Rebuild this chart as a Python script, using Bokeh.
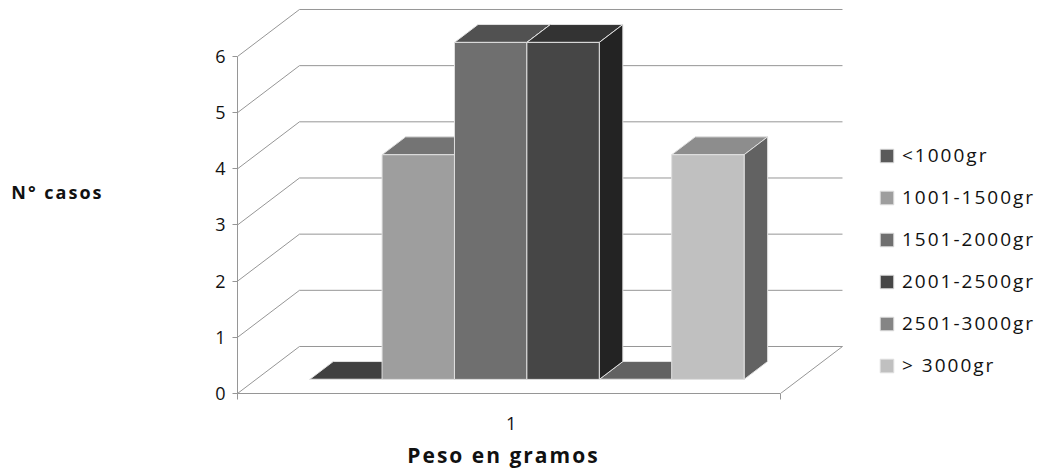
from bokeh.embed import file_html
from bokeh.resources import INLINE
from bokeh.plotting import figure
from bokeh.models import (Range1d, FixedTicker, LinearAxis, Legend, LegendItem)

series = ["<1000gr", "1001-1500gr", "1501-2000gr", "2001-2500gr", "2501-3000gr", "> 3000gr"]
values = [0, 4, 6, 6, 0, 4]
y_ticks = [0, 1, 2, 3, 4, 5, 6]
category_label = "1"
x_title = "Peso en gramos"
y_title = "N° casos"

front_colors = ["#5a5a5a", "#9e9e9e", "#6f6f6f", "#464646", "#858585", "#c0c0c0"]
top_colors = ["#404040", "#747474", "#515151", "#333333", "#626262", "#8d8d8d"]
side_colors = ["#2f2f2f", "#5c5c5c", "#3a3a3a", "#232323", "#484848", "#626262"]

FONT = "Open Sans"
GRID = "#969696"
EDGE = "#e0e0e0"
INK = "#111111"

# Oblique projection: one unit of depth moves a point this far in data units.
DEPTH_X, DEPTH_Y = 0.856, 0.837
NEAR, FAR = 0.30, 0.68        # depth span of the bars, 0 = front of floor, 1 = back wall
GAP = 0.74                    # empty space either side of the bar group
SPAN = 7.5                    # axis length in bar widths
CATEGORY_AT = 3.78            # where the category label is centred
TITLE_AT = 3.48               # anchor of the axis title, its tracking runs rightwards
Y_TITLE_AT = 3.58             # height of the value-axis title


def proj(x, y, d):
    return x + d * DEPTH_X, y + d * DEPTH_Y


p = figure(width=1044, height=470, output_backend="svg", toolbar_location=None,
           x_range=Range1d(0, 11.146), y_range=Range1d(0, 6.997),
           frame_height=393, frame_width=807,
           min_border_left=237, min_border_bottom=77, min_border_top=0, min_border_right=0,
           outline_line_color=None, x_axis_type=None, y_axis_type=None)
p.grid.visible = False
p.styles = {"letter-spacing": "2px"}

# Back wall, left wall and floor lines
for v in y_ticks:
    x0, y0 = proj(0, v, 1)
    x1, y1 = proj(SPAN, v, 1)
    p.line([x0, x1], [y0, y1], line_color=GRID, line_width=1)
    p.line([0, x0], [v, y0], line_color=GRID, line_width=1)
xr, yr = proj(SPAN, 0, 1)
p.line([SPAN, xr], [0, yr], line_color=GRID, line_width=1)

# Tops and sides go first, lowest bars underneath the taller ones
order = sorted(range(len(values)), key=lambda k: values[k])
for i in order:
    left, right = GAP + i, GAP + i + 1
    v = values[i]
    a = proj(left, v, NEAR)
    b = proj(right, v, NEAR)
    c = proj(right, v, FAR)
    d = proj(left, v, FAR)
    p.patch([a[0], b[0], c[0], d[0]], [a[1], b[1], c[1], d[1]],
            fill_color=top_colors[i], line_color=EDGE, line_width=1)
    if v > 0:
        e = proj(right, 0, NEAR)
        f = proj(right, 0, FAR)
        p.patch([b[0], e[0], f[0], c[0]], [b[1], e[1], f[1], c[1]],
                fill_color=side_colors[i], line_color=EDGE, line_width=1)

# Front faces, which also supply the legend swatches
items = []
for i, (name, v) in enumerate(zip(series, values)):
    x0, y0 = proj(GAP + i, 0, NEAR)
    x1, y1 = proj(GAP + i + 1, v, NEAR)
    r = p.quad(left=x0, right=x1, bottom=y0, top=y1,
               fill_color=front_colors[i], line_color=EDGE, line_width=1)
    items.append(LegendItem(label=name, renderers=[r]))

legend = Legend(items=items, location=(641, 15), orientation="vertical",
                glyph_width=17, glyph_height=17, label_height=20, label_standoff=7,
                spacing=16, padding=0, margin=0, border_line_color=None,
                background_fill_alpha=0, label_text_font=FONT, label_text_font_size="19px",
                label_text_color=INK)
p.add_layout(legend)

yaxis = LinearAxis(ticker=FixedTicker(ticks=y_ticks), major_tick_out=5, major_tick_in=0,
                   major_tick_line_color=GRID, axis_line_color=GRID,
                   minor_tick_line_color=None, major_label_standoff=7,
                   major_label_text_font=FONT, major_label_text_font_size="18px",
                   major_label_text_color=INK, bounds=(0, 6))
p.add_layout(yaxis, "left")

# Value-axis title, set level on a line-free axis of its own
y_title_axis = LinearAxis(ticker=FixedTicker(ticks=[Y_TITLE_AT]), major_tick_line_color=None,
                          axis_line_color=None, minor_tick_line_color=None,
                          major_label_overrides={Y_TITLE_AT: y_title},
                          major_label_standoff=119, major_label_text_font=FONT,
                          major_label_text_font_style="bold", major_label_text_font_size="18px",
                          major_label_text_color=INK)
p.add_layout(y_title_axis, "left")

# Axis line with end ticks only
xaxis = LinearAxis(ticker=FixedTicker(ticks=[0, SPAN]), major_tick_out=6, major_tick_in=0,
                   major_tick_line_color=GRID, axis_line_color=GRID, minor_tick_line_color=None,
                   major_label_text_font_size="1px", major_label_text_color=None,
                   major_label_standoff=0, bounds=(0, SPAN))
p.add_layout(xaxis, "below")

# Category label and axis title on line-free axes, centred under the bars
labels = LinearAxis(ticker=FixedTicker(ticks=[CATEGORY_AT]), major_tick_line_color=None,
                    axis_line_color=None, minor_tick_line_color=None,
                    major_label_overrides={CATEGORY_AT: category_label},
                    major_label_standoff=11, major_label_text_font=FONT,
                    major_label_text_font_size="18px", major_label_text_color=INK,
                    bounds=(0, SPAN))
p.add_layout(labels, "below")

title_axis = LinearAxis(ticker=FixedTicker(ticks=[TITLE_AT]), major_tick_line_color=None,
                        axis_line_color=None, minor_tick_line_color=None,
                        major_label_overrides={TITLE_AT: x_title},
                        major_label_standoff=2, major_label_text_font=FONT,
                        major_label_text_font_style="bold", major_label_text_font_size="21px",
                        major_label_text_color=INK, bounds=(0, SPAN))
p.add_layout(title_axis, "below")

open("out.html", "w").write(file_html(p, INLINE))
